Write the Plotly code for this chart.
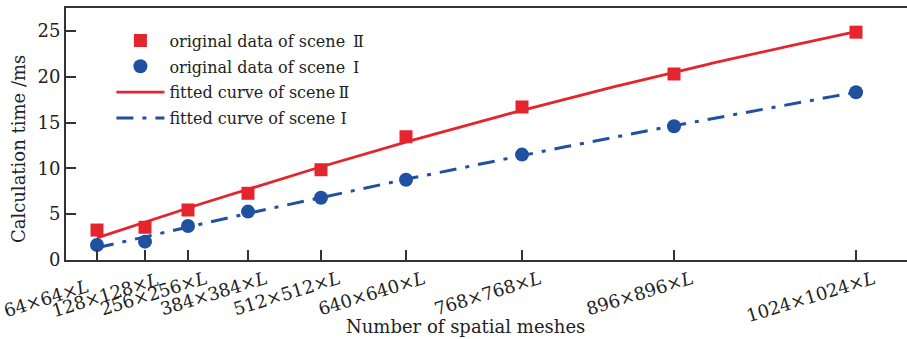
import numpy as np
import plotly.graph_objects as go

# Spatial mesh sizes (tick labels) and their positions along the x axis
NB = "\u00a0"
mesh_labels = [
    "64×64×<i>L</i>" + NB * 5, "128×128×<i>L</i>" + NB, "256×256×<i>L</i>",
    "384×384×<i>L</i>", "512×512×<i>L</i>", "640×640×<i>L</i>",
    "768×768×<i>L</i>", "896×896×<i>L</i>", "1024×1024×<i>L</i>",
]
mesh_pos = [31, 79, 122, 182, 255, 340, 456, 608, 790]

# Measured calculation time (ms)
time_scene2 = [3.27, 3.57, 5.46, 7.28, 9.85, 13.45, 16.7, 20.3, 24.86]
time_scene1 = [1.64, 2.0, 3.71, 5.28, 6.8, 8.75, 11.5, 14.6, 18.3]

RED = "#E4252D"
BLUE = "#2050A0"
AXIS = "#333333"
FONT = "DejaVu Serif"

# Quadratic least-squares fits of each scene
xs = np.linspace(mesh_pos[0], mesh_pos[-1], 300)
fit2 = np.polyval(np.polyfit(mesh_pos, time_scene2, 2), xs)
fit1 = np.polyval(np.polyfit(mesh_pos, time_scene1, 2), xs)

fig = go.Figure()
fig.add_trace(go.Scatter(
    x=xs, y=fit2, mode="lines", name="fitted curve of scene\u2009Ⅱ",
    line=dict(color=RED, width=2.8), legendgroup="c", legendrank=3,
))
fig.add_trace(go.Scatter(
    x=xs, y=fit1, mode="lines", name="fitted curve of scene Ⅰ",
    line=dict(color=BLUE, width=3, dash="17px,9px,4px,9px"), legendgroup="d",
    legendrank=4,
))
fig.add_trace(go.Scatter(
    x=mesh_pos, y=time_scene2, mode="markers",
    name="original data of scene\u2002Ⅱ",
    marker=dict(symbol="square", size=13, color=RED), legendgroup="a",
    legendrank=1,
))
fig.add_trace(go.Scatter(
    x=mesh_pos, y=time_scene1, mode="markers",
    name="original data of scene\u2002Ⅰ",
    marker=dict(symbol="circle", size=14, color=BLUE), legendgroup="b",
    legendrank=2,
))

fig.update_layout(
    width=907, height=339,
    margin=dict(l=66, r=0, t=8, b=79),
    plot_bgcolor="white", paper_bgcolor="white",
    font=dict(family=FONT, size=16, color="#222222"),
    showlegend=True,
    legend=dict(
        x=0.054, y=0.938, xanchor="left", yanchor="top",
        bgcolor="rgba(0,0,0,0)", font=dict(size=16, family=FONT),
        traceorder="grouped", tracegroupgap=2, itemwidth=48,
    ),
    xaxis=dict(
        range=[0, 841], tickmode="array", tickvals=mesh_pos, ticktext=mesh_labels,
        ticks="inside", ticklen=10, tickwidth=1.5, tickcolor=AXIS,
        showline=True, linecolor=AXIS, linewidth=2, mirror=True,
        showgrid=False, zeroline=False, tickangle=-17, ticklabelshift=18,
        tickfont=dict(size=18, family=FONT),
    ),
    yaxis=dict(
        range=[0, 27.5], tickvals=[0, 5, 10, 15, 20, 25],
        ticks="inside", ticklen=10, tickwidth=1.5, tickcolor=AXIS,
        showline=True, linecolor=AXIS, linewidth=2,
        showgrid=False, zeroline=False,
        tickfont=dict(size=18, family=FONT),
    ),
    annotations=[
        dict(text="Number of spatial meshes", xref="paper", yref="paper",
             x=(465 - 66) / 841, y=-0.312, xanchor="center", yanchor="bottom",
             showarrow=False, font=dict(size=18, family=FONT)),
        dict(text="Calculation time /ms", xref="paper", yref="paper",
             x=-0.057, y=(260 - 149) / 252, xanchor="center", yanchor="middle",
             textangle=-90, showarrow=False, font=dict(size=18, family=FONT)),
    ],
)

fig.write_html("out.html")
